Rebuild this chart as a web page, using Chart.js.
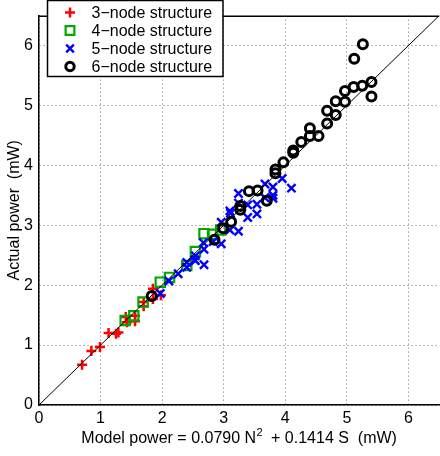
<!DOCTYPE html>
<html>
<head>
<meta charset="utf-8">
<script src="https://cdn.jsdelivr.net/npm/chart.js@4/dist/chart.umd.min.js"></script>
<style>
  html, body { margin: 0; padding: 0; background: #fff; overflow: hidden; width: 440px; height: 456px; }
  canvas { display: block; }
</style>
</head>
<body>
<canvas id="c" width="448" height="456" style="width:448px;height:456px"></canvas>
<script>
// ---- data ----
const seriesNames = ['3\u2212node structure', '4\u2212node structure', '5\u2212node structure', '6\u2212node structure'];

const x3 = [0.70, 0.85, 0.99, 1.13, 1.25, 1.29, 1.41, 1.43, 1.56, 1.56, 1.70, 1.70, 1.85, 1.85, 1.98];
const y3 = [0.67, 0.90, 0.97, 1.20, 1.19, 1.21, 1.47, 1.38, 1.49, 1.40, 1.65, 1.72, 1.94, 1.77, 1.83];

const x4 = [1.40, 1.54, 1.69, 1.97, 2.12, 2.40, 2.54, 2.68, 2.82, 2.95];
const y4 = [1.41, 1.49, 1.72, 2.05, 2.13, 2.33, 2.56, 2.86, 2.85, 2.92];

const x5 = [1.97, 2.11, 2.26, 2.40, 2.40, 2.53, 2.54, 2.54, 2.68, 2.68, 2.67, 2.83, 2.96, 2.96, 3.10, 3.10, 3.11,
            3.24, 3.24, 3.24, 3.39, 3.39, 3.54, 3.54, 3.67, 3.67, 3.80, 3.80, 3.80, 3.95, 4.10];
const y5 = [1.86, 2.07, 2.19, 2.38, 2.30, 2.42, 2.49, 2.41, 2.34, 2.60, 2.71, 2.73, 2.69, 3.05, 2.92, 3.24, 3.20,
            2.90, 3.53, 3.37, 3.34, 3.13, 3.35, 3.19, 3.69, 3.46, 3.64, 3.50, 3.45, 3.78, 3.62];

const x6 = [1.83, 2.85, 2.99, 3.12, 3.27, 3.27, 3.41, 3.55, 3.70, 3.84, 3.84, 3.97, 4.13, 4.13, 4.26,
            4.40, 4.40, 4.54, 4.68, 4.68, 4.82, 4.82, 4.97, 4.97, 5.11, 5.25, 5.40, 5.40, 5.12, 5.26];
const y6 = [1.82, 2.76, 2.95, 3.06, 3.32, 3.26, 3.57, 3.58, 3.41, 3.93, 3.87, 4.05, 4.21, 4.25, 4.39,
            4.49, 4.62, 4.49, 4.70, 4.91, 4.84, 5.07, 5.06, 5.24, 5.31, 5.33, 5.39, 5.15, 5.78, 6.02];

const refX = [0, 6.5];
const refY = [0, 6.5];

const tickValues = [0, 1, 2, 3, 4, 5, 6];
const axisMin = 0, axisMax = 6.5;

const xTitleMain = 'Model power = 0.0790 N';
const xTitleSup = '2';
const xTitleRest = '  + 0.1414 S  (mW)';
const yTitle = 'Actual power  (mW)';

// ---- build ----
const pts = (xs, ys) => xs.map((x, i) => ({ x: x, y: ys[i] }));
const FONT = "'Liberation Sans', Arial, Helvetica, sans-serif";

const styles = [
  { color: '#ff0000', pointStyle: 'cross',    radius: 5,   bw: 2.5 },
  { color: '#00a800', pointStyle: 'rect',     radius: 6.6, bw: 2.2 },
  { color: '#0000ff', pointStyle: 'crossRot', radius: 5.8, bw: 2.4 },
  { color: '#000000', pointStyle: 'circle',   radius: 4.5, bw: 3 }
];
const seriesData = [pts(x3, y3), pts(x4, y4), pts(x5, y5), pts(x6, y6)];

const datasets = [{
  type: 'line', label: 'ref', data: pts(refX, refY),
  borderColor: '#000', borderWidth: 1, pointRadius: 0, showLine: true, fill: false, order: 0
}];
seriesData.forEach((d, i) => {
  const s = styles[i];
  datasets.push({
    label: seriesNames[i], data: d,
    pointStyle: s.pointStyle, pointRadius: s.radius, pointHoverRadius: s.radius,
    borderColor: s.color, backgroundColor: 'rgba(0,0,0,0)', pointBorderWidth: s.bw,
    order: 4 - i
  });
});

function drawMarker(ctx, s, x, y) {
  ctx.save();
  ctx.strokeStyle = s.color; ctx.lineWidth = s.bw;
  ctx.beginPath();
  const r = s.radius;
  if (s.pointStyle === 'cross') {
    ctx.moveTo(x - r, y); ctx.lineTo(x + r, y); ctx.moveTo(x, y - r); ctx.lineTo(x, y + r);
  } else if (s.pointStyle === 'crossRot') {
    const o = r * Math.SQRT1_2;
    ctx.moveTo(x - o, y - o); ctx.lineTo(x + o, y + o); ctx.moveTo(x - o, y + o); ctx.lineTo(x + o, y - o);
  } else if (s.pointStyle === 'rect') {
    const h = r * Math.SQRT1_2;
    ctx.rect(x - h, y - h, 2 * h, 2 * h);
  } else {
    ctx.arc(x, y, r, 0, Math.PI * 2);
  }
  ctx.stroke();
  ctx.restore();
}

const framePlugin = {
  id: 'frame',
  afterDraw(chart) {
    const { ctx, chartArea: a } = chart;
    ctx.save();
    ctx.strokeStyle = '#000'; ctx.lineWidth = 1.5;
    ctx.beginPath();
    ctx.moveTo(a.left, a.top + 0.75); ctx.lineTo(a.right, a.top + 0.75);
    ctx.stroke();
    // legend box
    const L = 47.5, T = 0.5, R = 223, B = 76.5;
    ctx.fillStyle = '#fff';
    ctx.fillRect(L, T, R - L, B - T);
    ctx.lineWidth = 1.5;
    ctx.strokeRect(L, T, R - L, B - T);
    const rows = [12.5, 30.5, 48.5, 66.5];
    ctx.font = '16px ' + FONT;
    ctx.fillStyle = '#000';
    ctx.textBaseline = 'middle';
    ctx.textAlign = 'left';
    seriesNames.forEach((n, i) => {
      const s = Object.assign({}, styles[i]);
      if (s.pointStyle === 'circle') s.radius = 4.2;
      if (s.pointStyle === 'rect') s.radius = 6.2;
      if (s.pointStyle === 'crossRot') s.radius = 5.4;
      drawMarker(ctx, s, 70, rows[i]);
      ctx.fillText(n, 91.5, rows[i] + 1);
    });
    // x-axis title with superscript
    ctx.font = '16px ' + FONT;
    ctx.textBaseline = 'alphabetic';
    const wMain = ctx.measureText(xTitleMain).width;
    const wRest = ctx.measureText(xTitleRest).width;
    ctx.font = '11px ' + FONT;
    const wSup = ctx.measureText(xTitleSup).width;
    const total = wMain + wSup + wRest;
    const cx = (a.left + a.right) / 2;
    let x0 = cx - total / 2;
    const base = 443;
    ctx.font = '16px ' + FONT;
    ctx.fillText(xTitleMain, x0, base);
    ctx.font = '11px ' + FONT;
    ctx.fillText(xTitleSup, x0 + wMain + 0.5, base - 7);
    ctx.font = '16px ' + FONT;
    ctx.fillText(xTitleRest, x0 + wMain + wSup, base);
    ctx.restore();
  }
};

const gridCfg = {
  color: 'rgba(0,0,0,0.55)', lineWidth: 1, drawTicks: false
};

new Chart(document.getElementById('c'), {
  type: 'scatter',
  data: { datasets: datasets },
  options: {
    responsive: false, animation: false,
    devicePixelRatio: 1,
    layout: { padding: { top: 0, right: 4.5, left: 0, bottom: 0 } },
    plugins: { legend: { display: false }, tooltip: { enabled: false } },
    scales: {
      x: {
        type: 'linear', min: axisMin, max: axisMax,
        afterBuildTicks: s => { s.ticks = tickValues.map(v => ({ value: v })); },
        afterFit: s => { s.height = 51; },
        grid: gridCfg,
        border: { display: true, color: '#000', width: 1.5, dash: [1, 3] },
        ticks: { color: '#000', font: { size: 16, family: FONT }, padding: 4, maxRotation: 0, autoSkip: false },
        title: { display: false }
      },
      y: {
        type: 'linear', min: axisMin, max: axisMax,
        afterBuildTicks: s => { s.ticks = tickValues.map(v => ({ value: v })); },
        afterFit: s => { s.width = 39; },
        grid: gridCfg,
        border: { display: true, color: '#000', width: 1.5, dash: [1, 3] },
        ticks: { color: '#000', font: { size: 16, family: FONT }, padding: 6, autoSkip: false },
        title: { display: true, text: yTitle, color: '#000', font: { size: 16, family: FONT }, padding: { top: 5, bottom: 0 } }
      }
    }
  },
  plugins: [framePlugin]
});
</script>
</body>
</html>
